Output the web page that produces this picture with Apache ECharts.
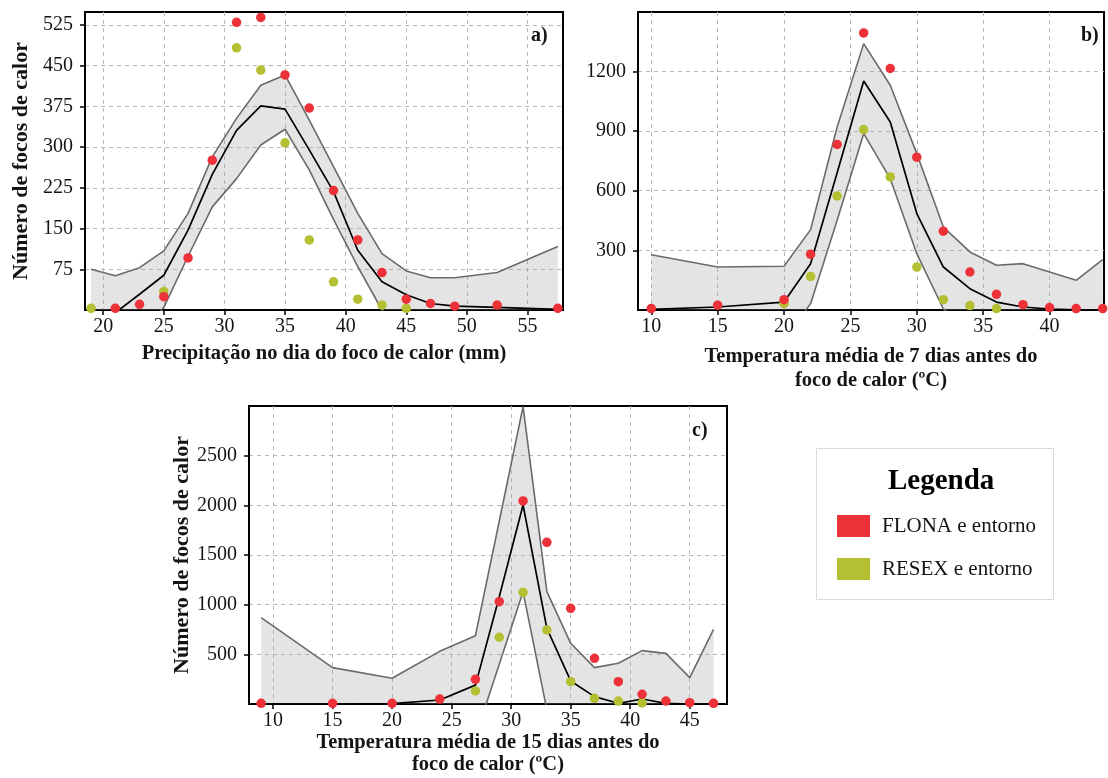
<!DOCTYPE html>
<html>
<head>
<meta charset="utf-8">
<script src="https://cdn.jsdelivr.net/npm/echarts@6/dist/echarts.min.js"></script>
<style>
  html, body { margin: 0; padding: 0; background: #ffffff; }
  #chart { width: 1108px; height: 778px; }
</style>
</head>
<body>
<div id="chart"></div>
<script>
// ---------- a) precipitation on the day of the hot spot ----------
const xA      = [19, 21, 23, 25, 27, 29, 31, 33, 35, 37, 39, 41, 43, 45, 47, 49, 52.5, 57.5];
const flonaA  = [null, 3, 10.5, 24.5, 96, 276, 530, 539, 433, 372, 220, 129, 69, 20, 12, 7, 9, 3];
const resexA  = [3, null, null, 34, null, null, 483, 442, 308, 129, 52, 20, 9, 3, null, null, null, null];
const meanA   = [-30, -5, 29, 64, 147, 250, 331, 376, 370, 295, 218, 110, 52, 28, 12, 7, 5, 1];
const upperA  = [75, 63, 78, 109, 178, 282, 353, 414, 433, 350, 264, 178, 104, 72, 59.5, 59.5, 69, 117];
const lowerA  = [-70, -75, -45, 5, 99, 190, 242, 304, 333, 258, 167, 80, 0, -40, -60, -60, -50, -30];
const xTicksA = [20, 25, 30, 35, 40, 45, 50, 55];
const yTicksA = [75, 150, 225, 300, 375, 450, 525];

// ---------- b) mean temperature of the 7 previous days ----------
const xB      = [10, 15, 20, 22, 24, 26, 28, 30, 32, 34, 36, 38, 40, 42, 44];
const flonaB  = [7, 24, 52, 280, 832, 1393, 1214, 768, 396, 191, 79, 27, 12, 7, 7];
const resexB  = [null, null, 32, 169, 573, 907, 669, 216, 52, 22, 7, null, null, null, null];
const meanB   = [3, 15, 40, 233, 690, 1151, 945, 485, 216, 107, 40, 15, 4, 1, 0];
const upperB  = [278, 216, 220, 404, 920, 1339, 1130, 786, 417, 292, 225, 233, 191, 149, 253];
const lowerB  = [-270, -200, -150, 32, 451, 887, 660, 283, 5, -80, -120, -120, -120, -120, -120];
const xTicksB = [10, 15, 20, 25, 30, 35, 40];
const yTicksB = [300, 600, 900, 1200];

// ---------- c) mean temperature of the 15 previous days ----------
const xC      = [9, 15, 20, 24, 27, 29, 31, 33, 35, 37, 39, 41, 43, 45, 47];
const flonaC  = [7, 7, 7, 50, 248, 1030, 2044, 1628, 963, 460, 225, 98, 30, 13, 7];
const resexC  = [null, null, null, null, 131, 672, 1124, 745, 225, 57, 30, 10, null, null, null];
const meanC   = [0, 0, 3, 40, 190, 1080, 2003, 762, 232, 74, 7, 50, 7, 0, 0];
const upperC  = [869, 366, 259, 530, 688, 1840, 2994, 1131, 611, 366, 410, 537, 510, 265, 752];
const lowerC  = [-800, -600, -500, -400, -330, 401, 1131, -60, -500, -500, -500, -500, -500, -500, -500];
const xTicksC = [10, 15, 20, 25, 30, 35, 40, 45];
const yTicksC = [500, 1000, 1500, 2000, 2500];

const NAME_FLONA = 'FLONA e entorno';
const NAME_RESEX = 'RESEX e entorno';
const COLOR_FLONA = '#ec3238';
const COLOR_RESEX = '#b4bf31';
const SERIF = "'Liberation Serif','Times New Roman',Times,serif";
const TEXT = '#141414';

function pairs(xs, ys) {
  const out = [];
  xs.forEach((x, i) => { if (ys[i] !== null) out.push([x, ys[i]]); });
  return out;
}

// grey confidence ribbon as one polygon between the lower and upper curves
function ribbon(idx, xs, lower, upper) {
  return {
    type: 'custom', xAxisIndex: idx, yAxisIndex: idx, silent: true, clip: true, z: 1,
    data: xs.map((x, i) => [x, lower[i], upper[i]]),
    encode: { x: 0, y: [1, 2] },
    renderItem: function (params, api) {
      if (params.dataIndex !== 0) return null;
      const top = xs.map((x, i) => api.coord([x, upper[i]]));
      const bottom = xs.map((x, i) => api.coord([x, lower[i]])).reverse();
      return {
        type: 'polygon',
        shape: { points: top.concat(bottom) },
        style: { fill: 'rgba(150,150,150,0.26)', stroke: null }
      };
    }
  };
}

// ribbon, its edges, the mean curve and the observed points of one panel
function panelSeries(idx, xs, lower, upper, mean, resex, flona) {
  const edge = { color: '#6a6a6a', width: 1.6 };
  const curve = (ys, style) => ({
    type: 'line', xAxisIndex: idx, yAxisIndex: idx, silent: true, z: 2,
    symbol: 'none', lineStyle: style,
    data: xs.map((x, i) => [x, ys[i]])
  });
  return [
    ribbon(idx, xs, lower, upper),
    curve(lower, edge),
    curve(upper, edge),
    curve(mean, { color: '#000', width: 1.7 }),
    {
      type: 'scatter', name: NAME_RESEX, xAxisIndex: idx, yAxisIndex: idx, z: 3,
      symbolSize: 9.5, itemStyle: { color: COLOR_RESEX, opacity: 1 },
      data: pairs(xs, resex)
    },
    {
      type: 'scatter', name: NAME_FLONA, xAxisIndex: idx, yAxisIndex: idx, z: 3,
      symbolSize: 9.5, itemStyle: { color: COLOR_FLONA, opacity: 1 },
      data: pairs(xs, flona)
    }
  ];
}

const dashed = { show: true, lineStyle: { color: '#b9b9b9', type: [4, 4], width: 1 } };
const plain = v => String(v);

function xAxisDef(idx, min, max, ticks, name, gap, lineHeight) {
  return {
    gridIndex: idx, type: 'value', min: min, max: max,
    axisLine: { show: true, lineStyle: { color: '#000', width: 2 } },
    axisTick: { show: true, length: 5, customValues: ticks, lineStyle: { color: '#000', width: 1.5 } },
    axisLabel: { customValues: ticks, formatter: plain, margin: 7, color: TEXT, fontFamily: SERIF, fontSize: 20 },
    splitLine: dashed,
    name: name, nameLocation: 'middle', nameGap: gap,
    nameTextStyle: { fontFamily: SERIF, fontWeight: 'bold', fontSize: 20.5, color: TEXT, lineHeight: lineHeight }
  };
}

function yAxisDef(idx, max, ticks, name, gap) {
  return {
    gridIndex: idx, type: 'value', min: 0, max: max,
    axisLine: { show: true, lineStyle: { color: '#000', width: 2 } },
    axisTick: { show: true, length: 5, customValues: ticks, lineStyle: { color: '#000', width: 1.5 } },
    axisLabel: { customValues: ticks, formatter: plain, margin: 12, color: TEXT, fontFamily: SERIF, fontSize: 20 },
    splitLine: dashed,
    name: name, nameLocation: 'middle', nameGap: gap, nameRotate: 90,
    nameTextStyle: { fontFamily: SERIF, fontWeight: 'bold', fontSize: 22, color: TEXT }
  };
}

const Y_TITLE = 'Número de focos de calor';

const option = {
  backgroundColor: '#ffffff',
  animation: false,
  grid: [
    { left: 85,  top: 12,  width: 478, height: 298, show: true, borderColor: '#000', borderWidth: 2, backgroundColor: 'transparent' },
    { left: 638, top: 12,  width: 466, height: 298, show: true, borderColor: '#000', borderWidth: 2, backgroundColor: 'transparent' },
    { left: 249, top: 406, width: 478, height: 298, show: true, borderColor: '#000', borderWidth: 2, backgroundColor: 'transparent' }
  ],
  xAxis: [
    xAxisDef(0, 18.5, 57.93, xTicksA, 'Precipitação no dia do foco de calor (mm)', 32, 24),
    xAxisDef(1, 9.0, 44.1, xTicksB, 'Temperatura média de 7 dias antes do\nfoco de calor (ºC)', 35, 24),
    xAxisDef(2, 7.98, 48.13, xTicksC, 'Temperatura média de 15 dias antes do\nfoco de calor (ºC)', 12, 22)
  ],
  yAxis: [
    yAxisDef(0, 549, yTicksA, Y_TITLE, 53),
    yAxisDef(1, 1498, yTicksB, '', 10),
    yAxisDef(2, 3000, yTicksC, Y_TITLE, 56)
  ],
  legend: {
    data: [NAME_FLONA, NAME_RESEX],
    orient: 'vertical', left: 832, top: 510,
    icon: 'rect', itemWidth: 33, itemHeight: 22, itemGap: 21,
    textStyle: { fontFamily: SERIF, fontSize: 21, color: TEXT, padding: [0, 0, 0, 7] },
    selectedMode: false
  },
  graphic: [
    { type: 'rect', z: 0, silent: true,
      shape: { x: 816.5, y: 448.5, width: 237, height: 151 },
      style: { fill: 'none', stroke: '#dadada', lineWidth: 1 } },
    { type: 'text', z: 10, silent: true, left: 888, top: 467,
      style: { text: 'Legenda', font: 'bold 29px ' + SERIF, fill: '#000' } },
    { type: 'text', z: 10, silent: true, left: 531, top: 26,
      style: { text: 'a)', font: 'bold 20px ' + SERIF, fill: TEXT } },
    { type: 'text', z: 10, silent: true, left: 1081, top: 26,
      style: { text: 'b)', font: 'bold 20px ' + SERIF, fill: TEXT } },
    { type: 'text', z: 10, silent: true, left: 692, top: 421,
      style: { text: 'c)', font: 'bold 20px ' + SERIF, fill: TEXT } }
  ],
  series: [].concat(
    panelSeries(0, xA, lowerA, upperA, meanA, resexA, flonaA),
    panelSeries(1, xB, lowerB, upperB, meanB, resexB, flonaB),
    panelSeries(2, xC, lowerC, upperC, meanC, resexC, flonaC)
  )
};

const chart = echarts.init(document.getElementById('chart'), null, { renderer: 'canvas' });
chart.setOption(option);
</script>
</body>
</html>
